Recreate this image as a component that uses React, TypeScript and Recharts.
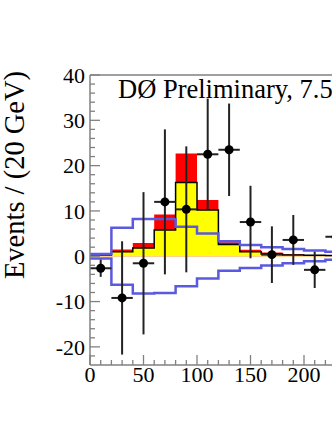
import React from 'react';
import {
  ComposedChart, Area, Line, Scatter, ErrorBar, XAxis, YAxis, ReferenceLine, Customized,
} from 'recharts';

// Bin lower edges (GeV); last entry closes the final step
const binEdges = [0, 20, 40, 60, 80, 100, 120, 140, 160, 180, 200, 220, 240];
// Yellow (lower) component per bin
const yellowVals = [0.3, 1.0, 1.8, 5.8, 16.3, 10.2, 2.6, 1.0, 0.5, 0.3, 0.2, 0.15];
// Red stacked total per bin
const totalVals = [0.3, 1.5, 2.9, 9.2, 22.7, 12.4, 3.1, 1.45, 0.85, 0.45, 0.3, 0.2];
// Blue uncertainty band (upper / lower)
const upperVals = [0.5, 6.3, 8.2, 8.2, 6.5, 5.0, 3.3, 2.5, 2.0, 1.6, 1.25, 1.0];
const lowerVals = [-0.5, -6.3, -8.2, -8.1, -6.6, -4.9, -3.2, -2.6, -2.05, -1.55, -1.1, -0.75];

// Data points
const dataX = [10, 30, 50, 70, 90, 110, 130, 150, 170, 190, 210, 230];
const dataY = [-2.65, -9.2, -1.55, 12.0, 10.35, 22.5, 23.5, 7.55, 0.35, 3.6, -3.0, 4.3];
const dataErr = [1.9, 12.5, 15.7, 16.0, 13.9, 12.3, 10.2, 8.0, 6.25, 5.5, 4.0, 5.0];
const halfBin = 10;

// Tick labels visible in the picture
const yLabels = [-20, -10, 0, 10, 20, 30, 40];
const xLabels = [0, 50, 100, 150, 200];

const yTicks: number[] = [];
for (let v = -22; v <= 40; v += 2) yTicks.push(v);
const xTicks: number[] = [];
for (let v = 0; v <= 400; v += 10) xTicks.push(v);

const FONT = '"Liberation Serif", "DejaVu Serif", serif';
const AXIS = '#808080';
const BLUE = '#5a5ae0';

const stepData = (vals: number[], key: string) =>
  binEdges.map((x, i) => ({ x, [key]: vals[Math.min(i, vals.length - 1)] }));

const yellowData = stepData(yellowVals, 'v');
const totalData = stepData(totalVals, 'v');
const upperData = stepData(upperVals, 'v');
const lowerData = stepData(lowerVals, 'v');
const points = dataX.map((x, i) => ({ x, y: dataY[i], ey: dataErr[i], ex: halfBin }));

const YTick = (props: any) => {
  const { x, y, payload } = props;
  const v = payload.value;
  const major = v % 10 === 0;
  return (
    <g>
      <line x1={x} x2={x + (major ? 10 : 5)} y1={y} y2={y} stroke={AXIS} strokeWidth={1.3} />
      {yLabels.includes(v) && (
        <text x={x - 5} y={y} dy="0.35em" textAnchor="end" fontFamily={FONT} fontSize={22} fill="#000">
          {v}
        </text>
      )}
    </g>
  );
};

const XTick = (props: any) => {
  const { x, y, payload } = props;
  const v = payload.value;
  const major = v % 50 === 0;
  return (
    <g>
      <line x1={x} x2={x} y1={y} y2={y - (major ? 10 : 5)} stroke={AXIS} strokeWidth={1.3} />
      {xLabels.includes(v) && (
        <text x={x} y={y + 17} textAnchor="middle" fontFamily={FONT} fontSize={22} fill="#000">
          {v}
        </text>
      )}
    </g>
  );
};

const Texts = () => (
  <g>
    <text x={118} y={98} fontFamily={FONT} fontSize={26.5} fill="#000">DØ Preliminary, 7.5</text>
    <text
      x={0}
      y={0}
      transform="translate(24,175) rotate(-90)"
      textAnchor="middle"
      fontFamily={FONT}
      fontSize={28.5}
      fill="#000"
    >
      Events / (20 GeV)
    </text>
  </g>
);

const Dot = (props: any) => <circle cx={props.cx} cy={props.cy} r={4.5} fill="#000" />;

export default function App() {
  return (
    <div style={{ position: 'absolute', left: 0, top: 0, width: 332, height: 430, overflow: 'hidden', background: '#fff' }}>
      <ComposedChart width={518} height={430} margin={{ top: 75, right: 0, bottom: 0, left: 0 }}>
        <XAxis
          dataKey="x"
          type="number"
          domain={[0, 400]}
          ticks={xTicks}
          interval={0}
          tickSize={0}
          tickMargin={0}
          tickLine={false}
          tick={<XTick />}
          height={65}
          axisLine={{ stroke: AXIS, strokeWidth: 1.5 }}
          allowDataOverflow
        />
        <YAxis
          type="number"
          domain={[-24, 40]}
          ticks={yTicks}
          interval={0}
          tickSize={0}
          tickMargin={0}
          tickLine={false}
          tick={<YTick />}
          width={90}
          axisLine={{ stroke: AXIS, strokeWidth: 1.5 }}
          allowDataOverflow
        />
        <ReferenceLine y={40} stroke={AXIS} strokeWidth={1.5} />
        <Area
          data={totalData}
          dataKey="v"
          type="stepAfter"
          baseValue={0}
          fill="#ff0000"
          fillOpacity={1}
          stroke="none"
          isAnimationActive={false}
        />
        <Area
          data={yellowData}
          dataKey="v"
          type="stepAfter"
          baseValue={0}
          fill="#ffff00"
          fillOpacity={1}
          stroke="#000"
          strokeWidth={1.5}
          isAnimationActive={false}
        />
        <Line data={upperData} dataKey="v" type="stepAfter" stroke={BLUE} strokeWidth={2.5} dot={false} isAnimationActive={false} />
        <Line data={lowerData} dataKey="v" type="stepAfter" stroke={BLUE} strokeWidth={2.5} dot={false} isAnimationActive={false} />
        <Scatter data={points} dataKey="y" shape={<Dot />} isAnimationActive={false}>
          <ErrorBar dataKey="ey" direction="y" width={0} stroke="#222" strokeWidth={2} />
          <ErrorBar dataKey="ex" direction="x" width={0} stroke="#222" strokeWidth={2} />
        </Scatter>
        <Customized component={Texts} />
      </ComposedChart>
    </div>
  );
}
